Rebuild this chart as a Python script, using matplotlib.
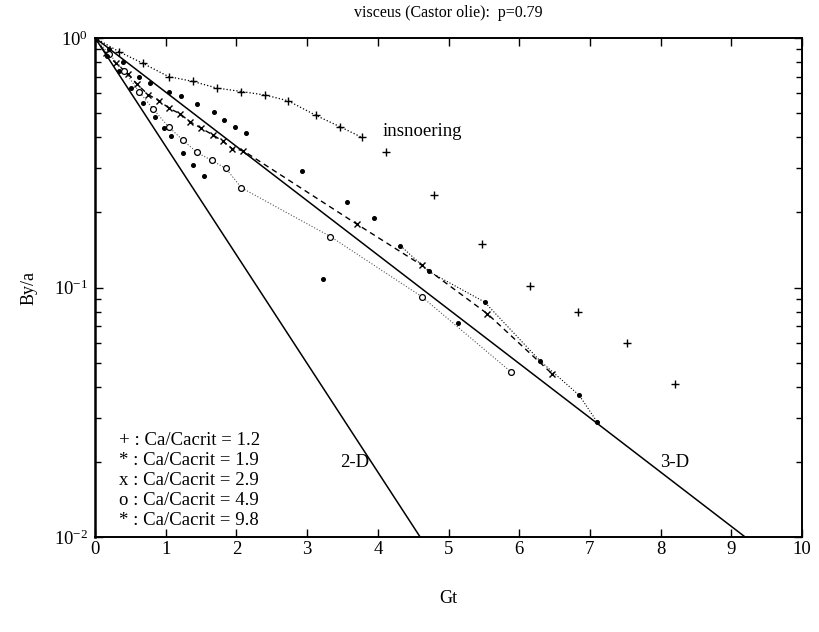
import matplotlib
matplotlib.use('Agg')
import matplotlib.pyplot as plt
from matplotlib.ticker import LogLocator, NullFormatter, FixedLocator

plt.rcParams['font.family'] = ['Liberation Serif', 'DejaVu Serif']
plt.rcParams['mathtext.fontset'] = 'stix'

# Ca/Cacrit = 1.2  (+)
gt_12 = [0, 0.34, 0.68, 1.04, 1.38, 1.72, 2.07, 2.41, 2.73, 3.12, 3.47, 3.77,
         4.11, 4.80, 5.48, 6.15, 6.83, 7.52, 8.21]
by_12 = [1.0, 0.88, 0.79, 0.70, 0.67, 0.63, 0.61, 0.59, 0.56, 0.49, 0.44, 0.40,
         0.35, 0.234, 0.150, 0.101, 0.080, 0.060, 0.041]

# Ca/Cacrit = 1.9  (*)
gt_19 = [0, 0.2, 0.4, 0.62, 0.77, 1.05, 1.21, 1.44, 1.68, 1.83, 1.98, 2.14,
         2.93, 3.56, 3.94, 4.32, 4.72, 5.51, 6.29, 6.85, 7.1]
by_19 = [1.0, 0.9, 0.8, 0.70, 0.66, 0.61, 0.585, 0.545, 0.505, 0.47, 0.44, 0.415,
         0.293, 0.22, 0.19, 0.147, 0.116, 0.0875, 0.051, 0.037, 0.029]

# Ca/Cacrit = 2.9  (x)
gt_29 = [0, 0.15, 0.30, 0.46, 0.59, 0.75, 0.91, 1.05, 1.20, 1.34, 1.50, 1.67,
         1.81, 1.94, 2.09, 3.71, 4.62, 5.55, 6.47]
by_29 = [1.0, 0.87, 0.79, 0.72, 0.653, 0.593, 0.559, 0.522, 0.497, 0.462, 0.435,
         0.408, 0.385, 0.36, 0.354, 0.179, 0.123, 0.0785, 0.045]

# Ca/Cacrit = 4.9  (o)
gt_49 = [0, 0.2, 0.41, 0.62, 0.82, 1.04, 1.24, 1.44, 1.65, 1.85, 2.07, 3.33,
         4.62, 5.88]
by_49 = [1.0, 0.86, 0.74, 0.61, 0.52, 0.44, 0.39, 0.348, 0.323, 0.30, 0.251,
         0.16, 0.092, 0.046]

# Ca/Cacrit = 9.8  (*)
gt_98 = [0, 0.17, 0.34, 0.51, 0.68, 0.85, 0.97, 1.08, 1.24, 1.38, 1.54, 3.22, 5.13]
by_98 = [1.0, 0.85, 0.74, 0.63, 0.55, 0.48, 0.436, 0.403, 0.345, 0.31, 0.28,
         0.108, 0.072]

# theory lines (end points)
gt_2d = [0, 4.6]
by_2d = [1.0, 0.01]
gt_3d = [0, 9.2]
by_3d = [1.0, 0.01]

legend_lines = ['+ : Ca/Cacrit = 1.2', '* : Ca/Cacrit = 1.9',
                'x : Ca/Cacrit = 2.9', 'o : Ca/Cacrit = 4.9',
                '* : Ca/Cacrit = 9.8']

fig = plt.figure(figsize=(8.2, 6.32), dpi=100)
ax = fig.add_axes([0.116, 0.150, 0.862, 0.790])

ax.plot(gt_2d, by_2d, color='black', lw=1.1)
ax.plot(gt_3d, by_3d, color='black', lw=1.1)

ax.plot(gt_12[:12], by_12[:12], color='black', ls=':', lw=0.9)
ax.plot(gt_12, by_12, ls='none', marker='+', ms=5.5, mew=1.0, color='black')

ax.plot(gt_19[15:], by_19[15:], color='black', ls=':', lw=0.8)
ax.plot(gt_19, by_19, ls='none', marker='o', ms=2.6, color='black')

ax.plot(gt_29, by_29, color='black', ls=(0, (4, 3)), lw=1.0)
ax.plot(gt_29, by_29, ls='none', marker='x', ms=4.5, mew=1.0, color='black')

ax.plot(gt_49, by_49, color='#555555', ls=':', lw=0.8)
ax.plot(gt_49, by_49, ls='none', marker='o', ms=4.2, mfc='white', mec='black',
        mew=0.9)

ax.plot(gt_98, by_98, ls='none', marker='o', ms=2.6, color='black')

ax.set_yscale('log')
ax.set_xlim(0, 10)
ax.set_ylim(0.01, 1.0)
ax.xaxis.set_major_locator(FixedLocator(range(11)))
ax.yaxis.set_major_locator(LogLocator(base=10))
ax.yaxis.set_minor_locator(LogLocator(base=10, subs=range(2, 10)))
ax.yaxis.set_minor_formatter(NullFormatter())
ax.tick_params(which='both', direction='in', top=True, right=True,
               labelsize=13.5, width=1.0)
ax.tick_params(which='major', length=6)
ax.tick_params(which='minor', length=4)
ax.tick_params(axis='x', pad=3)
ax.tick_params(axis='y', pad=5)
for s in ax.spines.values():
    s.set_linewidth(1.4)
ax.spines['left'].set_linewidth(1.8)

ax.text(4.07, 0.42, 'insnoering', fontsize=13.5, va='center', ha='left')
ax.text(3.47, 0.02, '2-D', fontsize=13.5, va='center', ha='left')
ax.text(7.99, 0.02, '3-D', fontsize=13.5, va='center', ha='left')

for i, s in enumerate(legend_lines):
    ax.text(0.034, 0.194 - 0.04 * i, s, fontsize=13.5, va='center', ha='left',
            transform=ax.transAxes)

ax.set_title('visceus (Castor olie):  p=0.79', fontsize=11.5, pad=15)
ax.set_xlabel('Gt', fontsize=13, labelpad=23)
ax.set_ylabel('By/a', fontsize=13, labelpad=12)

fig.savefig('out.png', dpi=100)
